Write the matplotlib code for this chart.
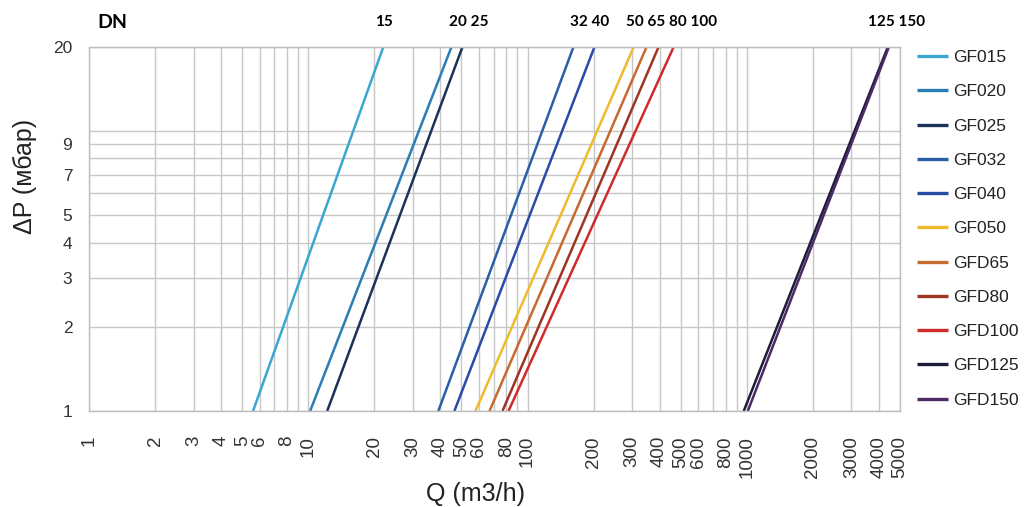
import numpy as np
import matplotlib.pyplot as plt

plt.rcParams['font.family'] = ['Liberation Sans', 'DejaVu Sans']

# --- DATA ---
dp_levels = [1, 20]  # pressure drop, mbar

q_gf015 = [5.6, 22.0]
q_gf020 = [10.2, 45.0]
q_gf025 = [12.2, 50.5]
q_gf032 = [39.2, 162]
q_gf040 = [46.4, 202]
q_gf050 = [57.9, 305]
q_gfd65 = [67.1, 349]
q_gfd80 = [76.9, 396]
q_gfd100 = [81.9, 464]
q_gfd125 = [969, 4400]
q_gfd150 = [1011, 4450]

series_names = ['GF015', 'GF020', 'GF025', 'GF032', 'GF040', 'GF050',
                'GFD65', 'GFD80', 'GFD100', 'GFD125', 'GFD150']
series_q = [q_gf015, q_gf020, q_gf025, q_gf032, q_gf040, q_gf050,
            q_gfd65, q_gfd80, q_gfd100, q_gfd125, q_gfd150]
series_colors = ['#3aa6d2', '#2a7db5', '#1b3358', '#2b5ea8', '#2a4aa8', '#eebb2e',
                 '#c86a30', '#9e3422', '#d12a2a', '#1c1c3c', '#4b2a66']

x_tick_vals = [1, 2, 3, 4, 5, 6, 8, 10, 20, 30, 40, 50, 60, 80, 100,
               200, 300, 400, 500, 600, 800, 1000, 2000, 3000, 4000, 5000]
x_grid_extra = [7, 9, 70, 90, 700, 900]
y_tick_vals = [1, 2, 3, 4, 5, 7, 9, 20]
y_grid_extra = [6, 8, 10]

dn_labels = ['15', '20 25', '32 40', '50 65 80 100', '125 150']
dn_label_x = [384, 469, 590, 672, 897]  # pixel centres

# --- FIGURE ---
W, H = 1029, 507
fig = plt.figure(figsize=(W / 100, H / 100), dpi=100)
ax = fig.add_axes([89 / W, 96 / H, 811 / W, 364 / H])

for name, q, col in zip(series_names, series_q, series_colors):
    ax.plot(q, dp_levels, color=col, linewidth=1.8, label=name, solid_capstyle='butt')

ax.set_xscale('log')
ax.set_yscale('log')
ax.set_xlim(1, 5000)
ax.set_ylim(1, 20)

ax.set_xticks(x_tick_vals)
ax.set_xticklabels([str(v) for v in x_tick_vals], rotation=90)
ax.set_xticks(x_grid_extra, minor=True)
ax.set_yticks(y_tick_vals)
ax.set_yticklabels([str(v) for v in y_tick_vals])
ax.set_yticks(y_grid_extra, minor=True)
ax.tick_params(which='both', length=0)
ax.tick_params(which='minor', labelbottom=False, labelleft=False)
ax.tick_params(axis='x', pad=18, labelsize=13.5, labelcolor='#333333')
ax.tick_params(axis='y', pad=12, labelsize=12.5, labelcolor='#333333')

ax.grid(True, which='both', color='#c6c6c6', linewidth=1.0)
ax.set_axisbelow(True)
for sp in ax.spines.values():
    sp.set_color('#bdbdbd')
    sp.set_linewidth(1.0)

# axis titles
fig.text(25 / W, 1 - 176 / H, 'ΔP (мбар)', rotation=90, ha='center', va='center',
         fontsize=18, color='#222222')
fig.text(476 / W, 1 / H, 'Q (m3/h)', ha='center', va='bottom',
         fontsize=18, color='#222222')

# DN header
fig.text(112 / W, 1 - 22 / H, 'DN', ha='center', va='center', fontsize=14,
         fontweight='bold', family=['Lato', 'DejaVu Sans'])
for lab, px in zip(dn_labels, dn_label_x):
    fig.text(px / W, 1 - 22 / H, lab, ha='center', va='center', fontsize=11,
             fontweight='bold', family=['Lato', 'DejaVu Sans'])

leg = ax.legend(loc='upper left', bbox_to_anchor=(917 / W, 1 - 50 / H),
                bbox_transform=fig.transFigure, frameon=False, borderpad=0,
                borderaxespad=0, handlelength=1.8, handletextpad=0.3,
                labelspacing=1.1, fontsize=12.5)
for h in leg.legend_handles:
    h.set_linewidth(2.4)
for t in leg.get_texts():
    t.set_color('#222222')

fig.savefig('out.png', dpi=100)
